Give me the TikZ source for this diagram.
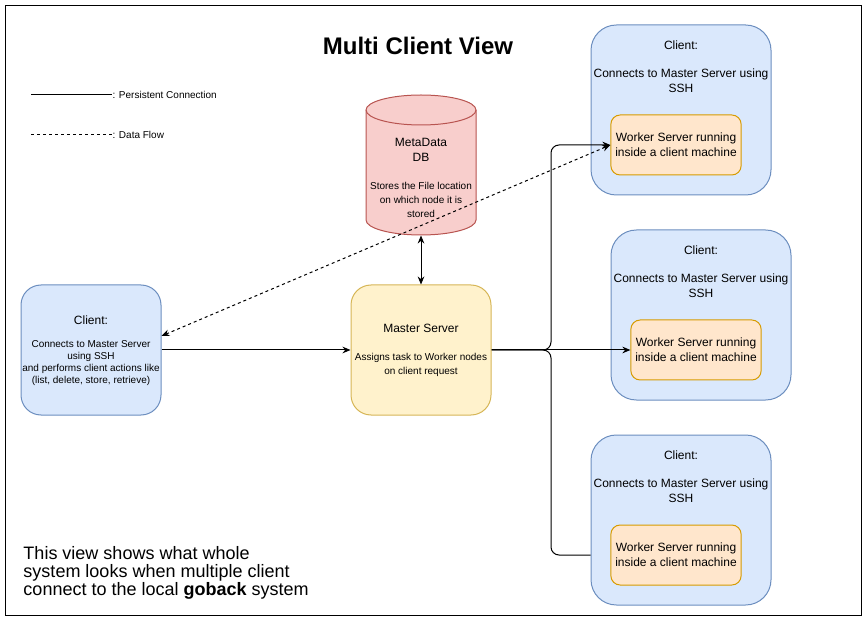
\documentclass[tikz,border=0pt]{standalone}
\usepackage{fontspec}
\setmainfont{Liberation Sans}
\usepackage{xcolor}
\usetikzlibrary{arrows.meta,positioning}

\definecolor{clientfill}{HTML}{DAE8FC}
\definecolor{clientdraw}{HTML}{6C8EBF}
\definecolor{masterfill}{HTML}{FFF2CC}
\definecolor{masterdraw}{HTML}{D6B656}
\definecolor{workerfill}{HTML}{FFE6CC}
\definecolor{workerdraw}{HTML}{D79B00}
\definecolor{dbfill}{HTML}{F8CECC}
\definecolor{dbdraw}{HTML}{B85450}

\begin{document}
\begin{tikzpicture}[x=0.75pt, y=-0.75pt, line width=0.75pt,
    >={Stealth[length=6pt,width=5pt]},
    clientbox/.style={draw=clientdraw, fill=clientfill, rounded corners=19pt,
      minimum width=135pt, minimum height=127.5pt},
    workerbox/.style={draw=workerdraw, fill=workerfill, rounded corners=7pt,
      minimum width=97.5pt, minimum height=45pt, align=center,
      font=\fontsize{9}{11.25}\selectfont},
    txtm/.style={inner sep=0pt, align=center, font=\fontsize{9}{11}\selectfont},
    txts/.style={inner sep=0pt, align=center, font=\fontsize{7.5}{10.5}\selectfont},
    persist/.style={->},
    dataflow/.style={<->, dash pattern=on 2.25pt off 2.25pt}]

  % Frame
  \useasboundingbox (0,0) rectangle (867,634);
  \draw (5.5,5.5) rectangle (861.5,615.5);

  % Title
  \node[font=\fontsize{18}{21}\selectfont\bfseries] (title) at (418,46) {Multi Client View};

  % Legend
  \coordinate (lgstart1) at (31,95);
  \coordinate (lgstart2) at (31,135);
  \node[txts, anchor=west] (lgpersist) at (112,95) {: Persistent Connection};
  \node[txts, anchor=west] (lgflow) at (112,135) {: Data Flow};
  \draw (lgstart1) -- (lgpersist.west);
  \draw[dash pattern=on 2.25pt off 2.25pt] (lgstart2) -- (lgflow.west);

  % Left client
  \node[clientbox, minimum width=105pt, minimum height=97.5pt, rounded corners=15pt] (cl) at (91,350) {};
  \node[txtm] (cltitle) at (91,320) {Client:};
  \node[txts, font=\fontsize{7.5}{9}\selectfont] (cltext) at (91,363)
    {Connects to Master Server\\using SSH\\and performs client actions like\\(list, delete, store, retrieve)};

  % Metadata DB
  \node[minimum width=82.5pt, minimum height=105pt] (db) at (421,165) {};
  \draw[draw=dbdraw, fill=dbfill] (366,110) -- (366,220) arc (180:0:55 and 15)
    -- (476,110) arc (0:-180:55 and 15) -- cycle;
  \draw[draw=dbdraw] (366,110) arc (180:0:55 and 15);
  \node[txtm, font=\fontsize{9}{11.25}\selectfont] (dbtitle) at (421,149.5) {MetaData\\DB};
  \node[txts] (dbtext) at (421,200) {Stores the File location\\on which node it is\\stored};

  % Master server
  \node[draw=masterdraw, fill=masterfill, rounded corners=15pt,
    minimum width=105pt, minimum height=97.5pt] (ms) at (421,350) {};
  \node[txtm] (mstitle) at (421,328) {Master Server};
  \node[txts] (mstext) at (421,365) {Assigns task to Worker nodes\\on client request};

  % Clients with workers
  \node[clientbox] (c1) at (681,110) {};
  \node[txtm] (c1title) at (681,45) {Client:};
  \node[txtm] (c1text) at (681,80.5) {Connects to Master Server using\\SSH};
  \node[workerbox] (w1) at (676,145) {Worker Server running\\inside a client machine};

  \node[clientbox] (c2) at (701,315) {};
  \node[txtm] (c2title) at (701,250) {Client:};
  \node[txtm] (c2text) at (701,285.5) {Connects to Master Server using\\SSH};
  \node[workerbox] (w2) at (696,350) {Worker Server running\\inside a client machine};

  \node[clientbox] (c3) at (681,520) {};
  \node[txtm] (c3title) at (681,455) {Client:};
  \node[txtm] (c3text) at (681,490.5) {Connects to Master Server using\\SSH};
  \node[workerbox] (w3) at (676,555) {Worker Server running\\inside a client machine};

  % Connections
  \coordinate (hub) at (551,350);
  \draw[persist] (cl) -- (ms);
  \draw[<->] (db.south) -- (ms.north);
  \draw[persist, rounded corners=6pt] (ms.east) -- (hub) |- (w1.west);
  \draw[persist] (ms.east) -- (w2.west);
  \draw[rounded corners=6pt] (ms.east) -- (hub) |- (c3.west |- w3.west);
  \draw[dataflow] ([yshift=10.5pt]cl.east) -- (w1.west);

  % Note
  \node[anchor=north west, inner sep=0pt, align=left,
    font=\fontsize{13.5}{13.5}\selectfont] (note) at (23,546)
    {This view shows what whole\\system looks when multiple client\\connect to the local \textbf{goback} system};
\end{tikzpicture}
\end{document}
